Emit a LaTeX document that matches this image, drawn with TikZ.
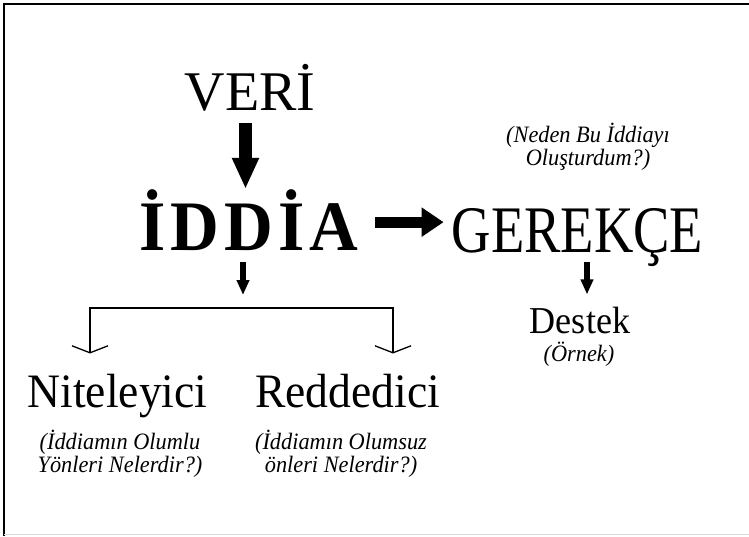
\documentclass[tikz,border=0pt]{standalone}
\usepackage{fontspec}
\setmainfont{Liberation Serif}
\newfontfamily\slimserif[FakeStretch=0.95]{Liberation Serif}
\newfontfamily\narrowserif[FakeStretch=0.82]{Liberation Serif}
\newfontfamily\claimserif[FakeStretch=0.95, LetterSpace=7]{Liberation Serif}
\usetikzlibrary{arrows.meta}

\begin{document}
\begin{tikzpicture}[x=1pt, y=1pt,
  term/.style={inner sep=0pt, anchor=base},
  note/.style={inner sep=0pt, anchor=base, align=center, font=\slimserif\itshape\fontsize{23.5}{21}\selectfont},
  fatarrow/.style={line width=13pt, -{Triangle[length=31pt, width=25pt]}},
  sidearrow/.style={line width=11pt, -{Triangle[length=22pt, width=28pt]}},
  smallarrow/.style={line width=5.5pt, -{Triangle[length=15pt, width=12pt]}},
  bracket/.style={line width=1.3pt, {Straight Barb[length=7pt, width=36pt]}-{Straight Barb[length=7pt, width=36pt]}}
  ]

  \useasboundingbox (0,0) rectangle (749,-536);

  % frame
  \draw[line width=2.5pt] (749,-4) -- (4,-4) -- (4,-536);
  \draw[black!15, line width=1pt] (4,-534) -- (749,-534);

  % main terms
  \node[term, font=\fontsize{56}{56}\selectfont] (veri) at (250,-110) {VERİ};
  \node[term, font=\claimserif\bfseries\fontsize{71}{71}\selectfont] (iddia) at (249,-250) {İDDİA};
  \node[term, font=\narrowserif\fontsize{66.5}{66.5}\selectfont] (gerekce) at (577.5,-252) {GEREKÇE};
  \node[term, font=\slimserif\fontsize{38}{38}\selectfont] (destek) at (580,-333) {Destek};
  \node[term, font=\slimserif\fontsize{48}{48}\selectfont] (niteleyici) at (117.5,-407) {Niteleyici};
  \node[term, font=\slimserif\fontsize{48}{48}\selectfont] (reddedici) at (347.5,-407) {Reddedici};

  % notes (base = last line)
  \node[note] (neden) at (588,-165) {(Neden Bu İddiayı\\Oluşturdum?)};
  \node[note] (ornek) at (579,-361) {(Örnek)};
  \node[note] (olumlu) at (120,-472) {(İddiamın Olumlu\\Yönleri Nelerdir?)};
  \node[note] (olumsuz) at (341,-472) {(İddiamın Olumsuz\\önleri Nelerdir?)};

  % arrows
  \draw[fatarrow, shorten <=12pt] ([xshift=-4.5pt]veri.south) -- ([xshift=-3.5pt]iddia.north);
  \draw[sidearrow, shorten <=17pt, shorten >=8pt] ([yshift=-2.5pt]iddia.east) -- ([yshift=-2.5pt]iddia.east -| gerekce.west);
  \draw[smallarrow, shorten <=-4pt, shorten >=12pt] ([xshift=9.5pt]gerekce.south) -- ([xshift=7pt]destek.north);

  % split below the claim
  \coordinate (fork) at (243,-308);
  \coordinate (forkleft) at (90,-308);
  \coordinate (forkright) at (393,-308);
  \draw[smallarrow, shorten <=12pt, shorten >=13pt] ([xshift=-6pt]iddia.south) -- (fork);
  \draw[bracket, shorten <=20pt, shorten >=20pt] (forkleft |- niteleyici.north) -- (forkleft) -- (forkright) -- (forkright |- reddedici.north);

\end{tikzpicture}
\end{document}
